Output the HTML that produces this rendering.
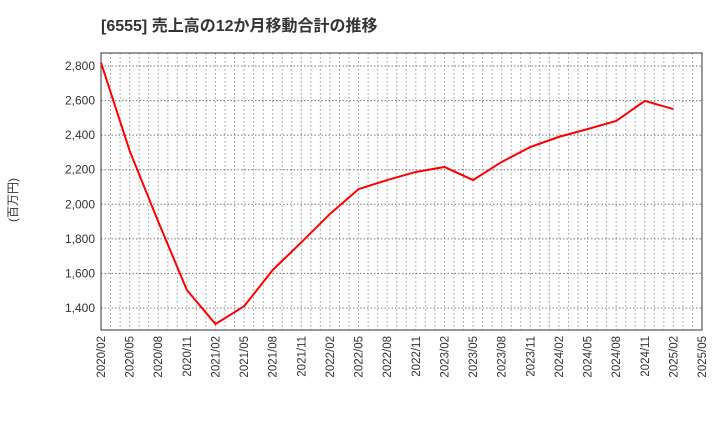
<!DOCTYPE html>
<html><head><meta charset="utf-8"><style>
body{margin:0;background:#fff;width:720px;height:440px;overflow:hidden;font-family:"Liberation Sans","Noto Sans CJK JP",sans-serif}
</style></head><body>
<svg id="c" width="720" height="440" xmlns="http://www.w3.org/2000/svg"></svg>
<script>
const categories=["2020/02","2020/05","2020/08","2020/11","2021/02","2021/05","2021/08","2021/11","2022/02","2022/05","2022/08","2022/11","2023/02","2023/05","2023/08","2023/11","2024/02","2024/05","2024/08","2024/11","2025/02"];
const values=[2820,2310,1900,1504,1307,1410,1620,1780,1944,2088,2140,2187,2216,2140,2245,2331,2390,2435,2482,2598,2551];
const xTickLabels=["2020/02","2020/05","2020/08","2020/11","2021/02","2021/05","2021/08","2021/11","2022/02","2022/05","2022/08","2022/11","2023/02","2023/05","2023/08","2023/11","2024/02","2024/05","2024/08","2024/11","2025/02","2025/05"];
const yTicks=[1400,1600,1800,2000,2200,2400,2600,2800];
const NS="http://www.w3.org/2000/svg",svg=document.getElementById('c');
const L=101,R=702,T=53,B=330;
const x=i=>L+(R-L)*i/63;
const y=v=>308-(v-1400)/200*34.57;
function mk(t,a,p){const e=document.createElementNS(NS,t);for(const k in a)e.setAttribute(k,a[k]);(p||svg).appendChild(e);return e;}
const title=mk('text',{x:101,y:31,'font-size':16,'font-weight':'bold',fill:'#333','xml:space':'preserve'});title.textContent='[6555]  売上高の12か月移動合計の推移';

for(let m=1;m<63;m++){const g=mk('line',{x1:x(m),x2:x(m),y1:T,y2:B,stroke:'#999','stroke-dasharray':'1.5,2.5'});}
yTicks.forEach(v=>{const g=mk('line',{x1:L,x2:R,y1:y(v),y2:y(v),stroke:'#777','stroke-dasharray':'1.5,2'});
const t=mk('text',{x:L-6,y:y(v)+4,'text-anchor':'end','font-size':12,fill:'#333'});t.textContent=v.toLocaleString('en-US');});
const frame=mk('rect',{x:L,y:T,width:R-L,height:B-T,fill:'none',stroke:'#333'});
xTickLabels.forEach((s,i)=>{const px=x(i*3);const t=mk('text',{transform:`translate(${px+4},${B+6}) rotate(-90)`,'text-anchor':'end','font-size':11.5,fill:'#333'});t.textContent=s;});
const yl=mk('text',{transform:'translate(17,200) rotate(-90)','text-anchor':'middle','font-size':12,fill:'#333'});yl.textContent='(百万円)';
const pts=values.map((v,i)=>x(i*3)+','+y(v)).join(' ');
const line=mk('polyline',{points:pts,fill:'none',stroke:'#f00','stroke-width':2});
</script>
</body></html>
